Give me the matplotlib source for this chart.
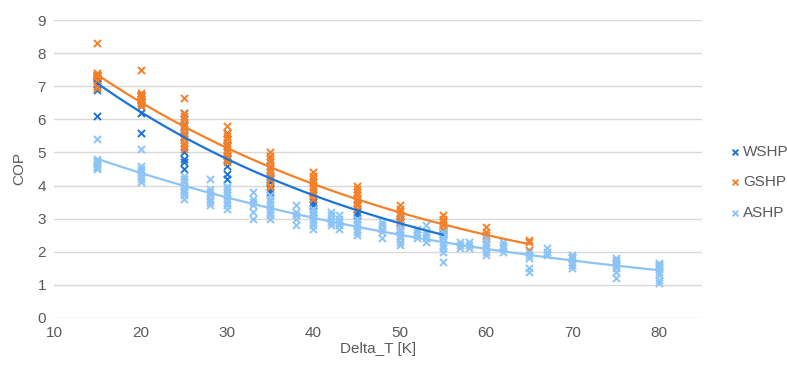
import numpy as np
import matplotlib
matplotlib.use("Agg")
from matplotlib import pyplot as plt

plt.rcParams['font.family'] = ['Liberation Sans', 'DejaVu Sans']

# WSHP (water source)
wshp_x = [15]*12 + [20]*9 + [25]*10 + [30]*9 + [35]*7 + [40]*7 + [45]*6 + [50]*4 + [55]*4
wshp_y = [7.35, 7.3, 7.3, 7.25, 7.25, 7.2, 7.2, 7.2, 7.1, 7.0, 6.9, 6.1,
          6.75, 6.7, 6.7, 6.6, 6.6, 6.5, 6.4, 6.2, 5.6,
          6.2, 6.0, 5.8, 5.6, 5.5, 5.3, 5.0, 4.8, 4.7, 4.5,
          5.6, 5.4, 5.2, 5.0, 4.9, 4.8, 4.6, 4.35, 4.2,
          4.6, 4.4, 4.3, 4.2, 4.1, 3.9, 3.8,
          4.1, 3.8, 3.6, 3.5, 3.4, 3.3, 3.2,
          3.6, 3.4, 3.3, 3.2, 3.1, 3.0,
          3.1, 3.0, 2.9, 2.7,
          2.65, 2.6, 2.6, 2.55]

# GSHP (ground source)
gshp_x = [15]*7 + [20]*7 + [25]*13 + [30]*11 + [35]*11 + [40]*9 + [45]*8 + [50]*7 + [55]*6 + [60]*4 + [65]*3
gshp_y = [8.3, 7.4, 7.35, 7.3, 7.2, 7.0, 6.95,
          7.5, 6.8, 6.75, 6.7, 6.6, 6.5, 6.4,
          6.65, 6.2, 6.1, 6.0, 5.9, 5.8, 5.7, 5.6, 5.5, 5.4, 5.3, 5.2, 5.1,
          5.8, 5.6, 5.5, 5.4, 5.3, 5.2, 5.1, 5.0, 4.9, 4.8, 4.7,
          5.0, 4.9, 4.8, 4.7, 4.6, 4.5, 4.4, 4.3, 4.2, 4.0, 3.95,
          4.4, 4.3, 4.2, 4.1, 4.0, 3.9, 3.8, 3.7, 3.6,
          4.0, 3.9, 3.8, 3.7, 3.6, 3.5, 3.4, 3.3,
          3.4, 3.3, 3.2, 3.1, 3.0, 2.9, 2.8,
          3.1, 3.0, 2.95, 2.9, 2.8, 2.7,
          2.75, 2.6, 2.5, 2.4,
          2.35, 2.3, 2.05]

# ASHP (air source)
ashp_x = ([15]*8 + [20]*7 + [25]*10 + [28]*7 + [30]*9 + [33]*6 + [35]*8 + [38]*5 + [40]*7
          + [42]*5 + [43]*5 + [45]*6 + [48]*5 + [50]*7 + [52]*4 + [53]*5 + [55]*8
          + [57]*3 + [58]*3 + [60]*6 + [62]*4 + [65]*5 + [67]*3 + [70]*7 + [75]*8 + [80]*10)
ashp_y = [5.4, 4.8, 4.75, 4.7, 4.65, 4.6, 4.55, 4.5,
          5.1, 4.6, 4.5, 4.4, 4.3, 4.2, 4.1,
          4.3, 4.2, 4.1, 4.0, 3.95, 3.9, 3.85, 3.8, 3.7, 3.6,
          4.2, 3.9, 3.8, 3.7, 3.6, 3.5, 3.4,
          4.0, 3.95, 3.9, 3.8, 3.7, 3.6, 3.5, 3.4, 3.3,
          3.8, 3.6, 3.5, 3.4, 3.2, 3.0,
          3.7, 3.6, 3.5, 3.4, 3.3, 3.2, 3.1, 3.0,
          3.4, 3.2, 3.1, 3.0, 2.8,
          3.3, 3.2, 3.1, 3.0, 2.9, 2.8, 2.7,
          3.2, 3.1, 3.0, 2.9, 2.8,
          3.1, 3.0, 2.9, 2.8, 2.7,
          3.0, 2.9, 2.8, 2.7, 2.6, 2.5,
          2.9, 2.8, 2.7, 2.6, 2.4,
          2.8, 2.7, 2.6, 2.5, 2.4, 2.3, 2.2,
          2.7, 2.6, 2.5, 2.4,
          2.8, 2.6, 2.5, 2.4, 2.3,
          2.6, 2.5, 2.4, 2.3, 2.2, 2.1, 2.0, 1.7,
          2.3, 2.2, 2.1,
          2.3, 2.2, 2.1,
          2.4, 2.3, 2.2, 2.1, 2.0, 1.9,
          2.3, 2.2, 2.1, 2.0,
          2.0, 1.9, 1.8, 1.5, 1.4,
          2.1, 2.0, 1.9,
          1.9, 1.85, 1.8, 1.8, 1.7, 1.6, 1.5,
          1.8, 1.75, 1.7, 1.65, 1.6, 1.5, 1.4, 1.2,
          1.65, 1.6, 1.6, 1.6, 1.55, 1.5, 1.4, 1.3, 1.15, 1.05]

series = [("WSHP", wshp_x, wshp_y, "#1a73d9"),
          ("GSHP", gshp_x, gshp_y, "#f5802a"),
          ("ASHP", ashp_x, ashp_y, "#8cc4f5")]

fig = plt.figure(figsize=(7.87, 3.65), dpi=100)
ax = fig.add_axes([0.069, 0.129, 0.823, 0.816])

for name, xs, ys, col in series:
    xs = np.array(xs, dtype=float)
    ys = np.array(ys, dtype=float)
    ax.scatter(xs, ys, marker="x", s=26, linewidths=1.4, color=col, label=name, zorder=3)
    # exponential trendline, like Excel
    b, a = np.polyfit(xs, np.log(ys), 1)
    xx = np.linspace(xs.min(), xs.max(), 100)
    ax.plot(xx, np.exp(a + b * xx), color=col, lw=1.6, zorder=4)

ax.set_xlim(10, 85)
ax.set_ylim(0, 9)
ax.set_xticks(range(10, 81, 10))
ax.set_yticks(range(0, 10))
ax.grid(axis="y", color="#d9d9d9", lw=1)
ax.set_axisbelow(True)
for s in ax.spines.values():
    s.set_visible(False)
ax.tick_params(length=0, colors="#595959", labelsize=11, pad=6)
ax.set_xlabel("Delta_T [K]", color="#595959", fontsize=11, labelpad=1)
ax.set_ylabel("COP", color="#595959", fontsize=11, labelpad=8)

fig.legend(loc="center left", bbox_to_anchor=(0.91, 0.5), frameon=False,
           fontsize=11, labelcolor="#595959", handletextpad=0.05,
           labelspacing=1.05, handlelength=1, markerscale=0.8, borderpad=0.2)

fig.savefig("out.png", dpi=100)
